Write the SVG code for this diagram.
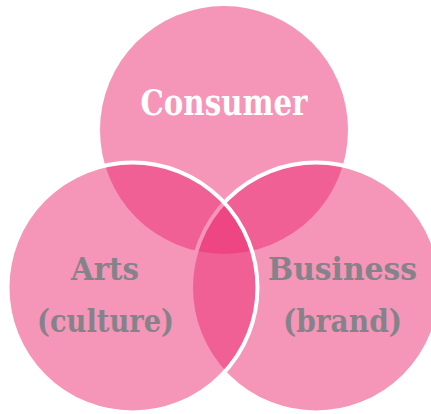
<svg xmlns="http://www.w3.org/2000/svg" width="431" height="414" viewBox="0 0 431 414">
<style>
.c{fill:#EB2B71;fill-opacity:0.5}
.s{stroke:#FFFFFF;stroke-width:4}
.t{font-family:"DejaVu Serif","Liberation Serif",serif;font-weight:bold;text-anchor:middle}
.w{fill:#FFFFFF;font-size:35px}
.g{fill:#85838A;font-size:31px}
</style>
<rect width="431" height="414" fill="#FFFFFF"/>
<g id="consumer">
<circle class="c" cx="224" cy="130" r="124"/>
<text class="t w" x="224" y="114.5" textLength="167" lengthAdjust="spacingAndGlyphs">Consumer</text>
</g>
<g id="business">
<circle class="c s" cx="316" cy="287.5" r="125"/>
<text class="t g" x="342.5" y="280" textLength="149" lengthAdjust="spacingAndGlyphs">Business</text>
<text class="t g" x="342.5" y="332" textLength="119" lengthAdjust="spacingAndGlyphs">(brand)</text>
</g>
<g id="arts">
<circle class="c s" cx="132.5" cy="287.5" r="125"/>
<text class="t g" x="105" y="280" textLength="68" lengthAdjust="spacingAndGlyphs">Arts</text>
<text class="t g" x="105.5" y="332" textLength="137" lengthAdjust="spacingAndGlyphs">(culture)</text>
</g>
<g id="connectors"></g>
</svg>
